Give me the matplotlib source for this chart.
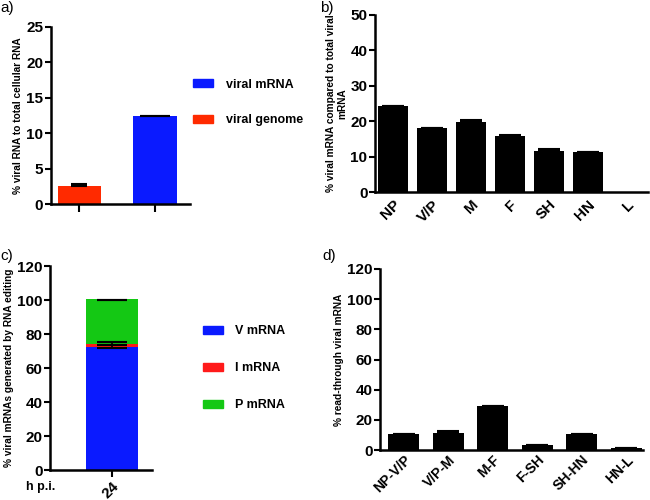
import matplotlib
matplotlib.use("Agg")
import matplotlib.pyplot as plt
from matplotlib.patches import Patch

plt.rcParams['font.family'] = ['Liberation Sans', 'DejaVu Sans']

# Panel a
a_labels = ["viral genome", "viral mRNA"]
a_values = [2.6, 12.4]
a_errors = [0.25, 0.05]
a_colors = ["#ff2a00", "#0a1aff"]

# Panel b
b_cats = ["NP", "V/P", "M", "F", "SH", "HN", "L"]
b_values = [24.2, 18.1, 19.7, 15.7, 11.7, 11.2, 0.1]
b_errors = [0.1, 0.1, 0.5, 0.5, 0.5, 0.1, 0.0]

# Panel c
c_cat = ["24"]
c_series = ["V mRNA", "I mRNA", "P mRNA"]
c_values = [72.5, 1.8, 26.2]
c_errors = [0.8, 0.8, 0.0]
c_colors = ["#0a1aff", "#ff1a1a", "#14c814"]

# Panel d
d_cats = ["NP-V/P", "V/P-M", "M-F", "F-SH", "SH-HN", "HN-L"]
d_values = [10.3, 11.3, 29.0, 3.3, 10.3, 1.2]
d_errors = [0.1, 1.0, 0.5, 0.1, 0.1, 0.1]

fig = plt.figure(figsize=(6.5, 5), dpi=100)

TICK_FS = 11
LAB_FS = 7.3
LEG_PROP = {"size": 9, "weight": "bold"}


def style(ax):
    for s in ["top", "right"]:
        ax.spines[s].set_visible(False)
    for s in ["left", "bottom"]:
        ax.spines[s].set_linewidth(1.8)
    ax.tick_params(width=1.5, length=4, labelsize=TICK_FS, direction="out", pad=1.5)
    for t in ax.get_yticklabels() + ax.get_xticklabels():
        t.set_fontweight("bold")


def fig_legend(handles, labels, x, y, spacing):
    return fig.legend(handles, labels, loc="center left", bbox_to_anchor=(x, y),
                      bbox_transform=fig.transFigure, frameon=False, prop=LEG_PROP,
                      handlelength=1.6, handleheight=0.6, handletextpad=1.0,
                      labelspacing=spacing, borderpad=0, borderaxespad=0)


# ---- a
ax = fig.add_axes([0.078, 0.592, 0.214, 0.354])
caps_a = [6, 11]
for i, (v, e, c) in enumerate(zip(a_values, a_errors, a_colors)):
    ax.bar(i, v, width=0.58, color=c)
    ax.errorbar(i, v, yerr=[[0], [e]], color="black", capsize=caps_a[i], capthick=1.5, elinewidth=1.2)
ax.set_xlim(-0.38, 1.46)
ax.set_ylim(0, 25)
ax.set_yticks([0, 5, 10, 15, 20, 25])
ax.set_xticks(range(len(a_values)))
ax.set_xticklabels([])
ax.set_ylabel("% viral RNA to total cellular RNA", fontsize=LAB_FS, fontweight="bold", labelpad=2)
style(ax)
ax.tick_params(axis="x", length=6)
handles = [Patch(color=a_colors[1]), Patch(color=a_colors[0])]
fig_legend(handles, [a_labels[1], a_labels[0]], 0.297, 0.795, 1.9)
fig.text(0.0, 0.998, "a)", fontsize=11, va="top")

# ---- b
ax = fig.add_axes([0.577, 0.616, 0.42, 0.354])
for i, (v, e) in enumerate(zip(b_values, b_errors)):
    ax.bar(i, v, width=0.75, color="black")
    if e > 0:
        ax.errorbar(i, v, yerr=[[0], [e]], color="black", capsize=8, capthick=1.5, elinewidth=1.2)
ax.set_xlim(-0.46, 6.54)
ax.set_ylim(0, 50)
ax.set_yticks([0, 10, 20, 30, 40, 50])
ax.set_xticks(range(len(b_cats)))
ax.set_xticklabels(b_cats, rotation=45, ha="right", rotation_mode="anchor")
ax.set_ylabel("% viral mRNA compared to total viral\nmRNA", fontsize=LAB_FS, fontweight="bold", labelpad=2)
style(ax)
ax.tick_params(axis="x", length=0, pad=4)
fig.text(0.492, 0.998, "b)", fontsize=11, va="top")

# ---- c
ax = fig.add_axes([0.077, 0.06, 0.157, 0.408])
bottom = 0
for s, v, c in zip(c_series, c_values, c_colors):
    ax.bar(0, v, bottom=bottom, width=1.0, color=c)
    bottom += v
bottom = 0
for v, e in zip(c_values, c_errors):
    top = bottom + v
    if e > 0:
        ax.errorbar(0, top, yerr=[[e], [e]], color="black", capsize=11, capthick=1.5, elinewidth=1.2)
    else:
        ax.errorbar(0, top - 0.6, yerr=[[0], [0]], color="black", capsize=11, capthick=1.5)
    bottom = top
ax.set_xlim(-1.19, 0.77)
ax.set_ylim(0, 120)
ax.set_yticks([0, 20, 40, 60, 80, 100, 120])
ax.set_xticks([0])
ax.set_xticklabels(c_cat, rotation=45, ha="right", rotation_mode="anchor")
ax.set_ylabel("% viral mRNAs generated by RNA editing", fontsize=LAB_FS, fontweight="bold", labelpad=2)
style(ax)
ax.tick_params(axis="x", length=5)
handles = [Patch(color=c) for c in c_colors]
fig_legend(handles, c_series, 0.312, 0.264, 2.0)
fig.text(0.04, 0.026, "h p.i.", fontsize=9, fontweight="bold", ha="left", va="center")
fig.text(0.0, 0.502, "c)", fontsize=11, va="top")

# ---- d
ax = fig.add_axes([0.585, 0.1, 0.404, 0.362])
for i, (v, e) in enumerate(zip(d_values, d_errors)):
    ax.bar(i, v, width=0.7, color="black")
    if e > 0:
        ax.errorbar(i, v, yerr=[[0], [e]], color="black", capsize=8, capthick=1.5, elinewidth=1.2)
ax.set_xlim(-0.53, 5.37)
ax.set_ylim(0, 120)
ax.set_yticks([0, 20, 40, 60, 80, 100, 120])
ax.set_xticks(range(len(d_cats)))
ax.set_xticklabels(d_cats, rotation=45, ha="right", rotation_mode="anchor")
ax.set_ylabel("% read-through viral mRNA", fontsize=LAB_FS, fontweight="bold", labelpad=2)
style(ax)
ax.tick_params(axis="x", length=0, pad=2, labelsize=10)
fig.text(0.496, 0.502, "d)", fontsize=11, va="top")

fig.savefig("out.png", dpi=100)
